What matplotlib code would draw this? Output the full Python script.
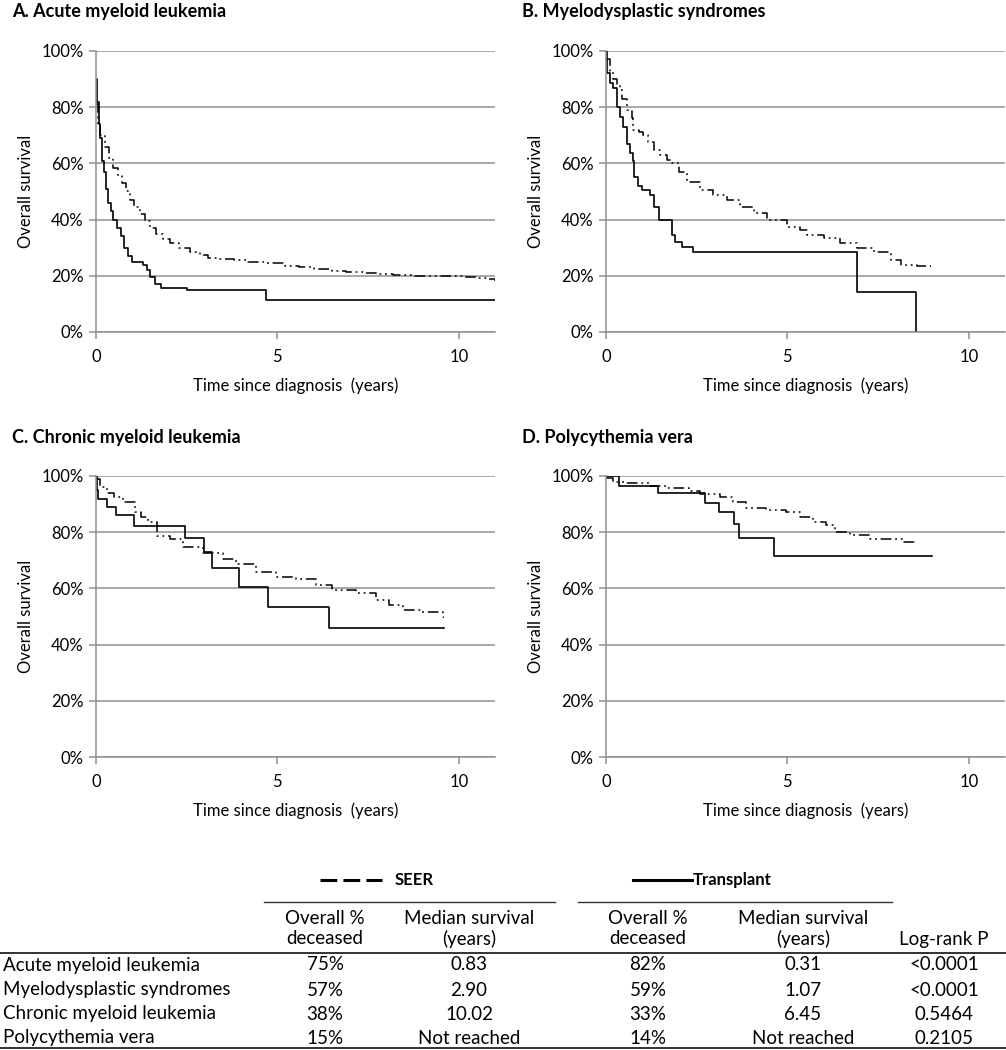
import matplotlib
matplotlib.use("Agg")
import matplotlib.pyplot as plt
from matplotlib.lines import Line2D
from matplotlib.ticker import PercentFormatter

plt.rcParams['font.family'] = ['Lato', 'DejaVu Sans']

# Kaplan-Meier curves (time in years, survival fraction)
aml_tx_time = [0, 0.03, 0.08, 0.12, 0.16, 0.22, 0.28, 0.34, 0.42, 0.48, 0.58, 0.68, 0.78, 0.88,
               1.0, 1.3, 1.4, 1.5, 1.62, 1.78, 2.5, 4.7, 11.0]
aml_tx_surv = [0.90, 0.82, 0.74, 0.69, 0.61, 0.57, 0.51, 0.46, 0.43, 0.40, 0.37, 0.34, 0.30, 0.27,
               0.25, 0.24, 0.22, 0.195, 0.17, 0.158, 0.150, 0.113, 0.113]
aml_seer_time = [0, 0.05, 0.12, 0.25, 0.35, 0.48, 0.6, 0.71, 0.82, 0.94, 1.05, 1.2, 1.35, 1.49,
                 1.65, 1.85, 2.05, 2.3, 2.6, 2.86, 3.1, 3.4, 3.8, 4.2, 4.7, 5.2, 5.6, 6.0, 6.5,
                 6.9, 7.4, 7.8, 8.2, 8.7, 9.2, 9.6, 10.1, 10.5, 10.8, 11.0]
aml_seer_surv = [0.81, 0.74, 0.70, 0.66, 0.62, 0.585, 0.555, 0.53, 0.50, 0.47, 0.445, 0.42, 0.395,
                 0.37, 0.35, 0.33, 0.315, 0.30, 0.285, 0.274, 0.265, 0.259, 0.255, 0.25, 0.244,
                 0.236, 0.23, 0.225, 0.218, 0.213, 0.21, 0.206, 0.203, 0.201, 0.199, 0.198,
                 0.196, 0.193, 0.188, 0.18]

mds_tx_time = [0, 0.02, 0.04, 0.11, 0.2, 0.3, 0.39, 0.48, 0.57, 0.66, 0.75, 0.78, 0.89, 0.99,
               1.22, 1.31, 1.45, 1.81, 1.9, 2.09, 2.41, 6.93, 8.56, 8.57]
mds_tx_surv = [1.0, 0.97, 0.92, 0.886, 0.868, 0.80, 0.765, 0.73, 0.67, 0.637, 0.61, 0.55, 0.52,
               0.505, 0.487, 0.445, 0.40, 0.345, 0.32, 0.302, 0.285, 0.143, 0.0, 0.0]
mds_seer_time = [0, 0.11, 0.2, 0.3, 0.39, 0.44, 0.57, 0.71, 0.75, 0.9, 1.03, 1.17, 1.31, 1.5,
                 1.68, 1.81, 2.0, 2.23, 2.6, 2.96, 3.33, 3.7, 4.07, 4.44, 4.99, 5.36, 5.54, 6.0,
                 6.46, 6.93, 7.38, 7.85, 8.12, 8.58, 8.95]
mds_seer_surv = [0.97, 0.924, 0.90, 0.88, 0.86, 0.83, 0.79, 0.76, 0.72, 0.71, 0.70, 0.676, 0.648,
                 0.63, 0.612, 0.60, 0.57, 0.534, 0.505, 0.488, 0.47, 0.445, 0.423, 0.40, 0.374,
                 0.363, 0.345, 0.333, 0.315, 0.298, 0.286, 0.256, 0.238, 0.236, 0.236]

cml_tx_time = [0, 0.02, 0.05, 0.29, 0.55, 1.06, 2.45, 2.98, 3.21, 3.94, 4.75, 6.43, 9.59]
cml_tx_surv = [1.0, 0.95, 0.917, 0.889, 0.861, 0.823, 0.78, 0.728, 0.671, 0.604, 0.535, 0.46, 0.46]
cml_seer_time = [0, 0.1, 0.29, 0.5, 0.75, 1.07, 1.25, 1.44, 1.67, 2.04, 2.4, 2.95, 3.5, 3.86,
                 4.41, 4.96, 5.51, 6.06, 6.52, 7.16, 7.71, 8.08, 8.45, 9.0, 9.56, 9.6]
cml_seer_surv = [0.99, 0.962, 0.938, 0.925, 0.909, 0.873, 0.855, 0.837, 0.786, 0.776, 0.746,
                 0.727, 0.705, 0.687, 0.659, 0.642, 0.633, 0.612, 0.594, 0.582, 0.559, 0.541,
                 0.523, 0.515, 0.50, 0.50]

pv_tx_time = [0, 0.36, 1.42, 2.74, 3.11, 3.52, 3.68, 4.62, 9.0]
pv_tx_surv = [1.0, 0.966, 0.941, 0.903, 0.871, 0.828, 0.78, 0.715, 0.715]
pv_seer_time = [0, 0.18, 0.55, 1.2, 1.66, 2.3, 2.59, 3.13, 3.5, 3.87, 4.42, 4.97, 5.34, 5.71,
                6.07, 6.3, 6.72, 7.27, 7.82, 8.19, 8.5]
pv_seer_surv = [0.992, 0.98, 0.974, 0.964, 0.956, 0.948, 0.935, 0.924, 0.909, 0.885, 0.879,
                0.871, 0.855, 0.837, 0.826, 0.802, 0.79, 0.776, 0.776, 0.764, 0.751]

panel_titles = ["A. Acute myeloid leukemia", "B. Myelodysplastic syndromes",
                "C. Chronic myeloid leukemia", "D. Polycythemia vera"]

# summary table
diseases = ["Acute myeloid leukemia", "Myelodysplastic syndromes",
            "Chronic myeloid leukemia", "Polycythemia vera"]
seer_deceased = ["75%", "57%", "38%", "15%"]
seer_median = ["0.83", "2.90", "10.02", "Not reached"]
tx_deceased = ["82%", "59%", "33%", "14%"]
tx_median = ["0.31", "1.07", "6.45", "Not reached"]
logrank_p = ["<0.0001", "<0.0001", "0.5464", "0.2105"]

W, H = 1006, 1050
fig = plt.figure(figsize=(W / 100, H / 100), dpi=100)

def fx(px):
    return px / W

def fy(py):
    return 1 - py / H

GRID = "#8f8f8f"
SEER_DASH = (0, (7, 2.5, 1.2, 2.5, 1.2, 2.5))

panels = [
    (96, 51, aml_tx_time, aml_tx_surv, aml_seer_time, aml_seer_surv),
    (606, 51, mds_tx_time, mds_tx_surv, mds_seer_time, mds_seer_surv),
    (96, 476, cml_tx_time, cml_tx_surv, cml_seer_time, cml_seer_surv),
    (606, 476, pv_tx_time, pv_tx_surv, pv_seer_time, pv_seer_surv),
]

for i, (left, top, tt, ts, st, ss) in enumerate(panels):
    ax = fig.add_axes([fx(left), fy(top + 281), 399 / W, 281 / H])
    ax.step(st, ss, where="post", color="black", lw=1.1, linestyle=SEER_DASH)
    ax.step(tt, ts, where="post", color="black", lw=1.2)
    ax.set_xlim(0, 11)
    ax.set_ylim(0, 1)
    ax.set_xticks([0, 5, 10])
    ax.set_yticks([0, 0.2, 0.4, 0.6, 0.8, 1.0])
    ax.yaxis.set_major_formatter(PercentFormatter(xmax=1, decimals=0))
    ax.grid(axis="y", color=GRID, lw=1.1)
    ax.set_axisbelow(True)
    for side in ["top", "right"]:
        ax.spines[side].set_visible(False)
    for side in ["left", "bottom"]:
        ax.spines[side].set_color(GRID)
        ax.spines[side].set_linewidth(1.1)
    ax.tick_params(axis="both", colors=GRID, length=5, width=1.1, labelsize=12,
                   labelcolor="black")
    ax.tick_params(axis="y", pad=4)
    ax.tick_params(axis="x", pad=7)
    ax.set_xlabel("Time since diagnosis  (years)", fontsize=12, labelpad=9)
    ax.set_ylabel("Overall survival", fontsize=12, labelpad=5)
    fig.text(fx(left - 84), fy(top - 39), panel_titles[i], fontsize=13,
             fontweight="bold", va="center", ha="left")

# legend above the table
fig.add_artist(Line2D([fx(320), fx(382)], [fy(880), fy(880)], color="black", lw=2.2,
                      linestyle=(0, (5.5, 2))))
fig.text(fx(395), fy(880), "SEER", fontsize=12, fontweight="bold", va="center")
fig.add_artist(Line2D([fx(633), fx(692)], [fy(880), fy(880)], color="black", lw=2.2))
fig.text(fx(693), fy(880), "Transplant", fontsize=12, fontweight="bold", va="center")

fig.add_artist(Line2D([fx(264), fx(555)], [fy(902), fy(902)], color="#333333", lw=1.0))
fig.add_artist(Line2D([fx(578), fx(892)], [fy(902), fy(902)], color="#333333", lw=1.0))

col_x = [325, 469, 648, 803, 944]
fs = 13.5
for x, h1, h2 in zip(col_x, ["Overall %", "Median survival", "Overall %", "Median survival", ""],
                     ["deceased", "(years)", "deceased", "(years)", "Log-rank P"]):
    if h1:
        fig.text(fx(x), fy(918), h1, fontsize=fs, ha="center", va="center")
    fig.text(fx(x), fy(939), h2, fontsize=fs, ha="center", va="center")

fig.add_artist(Line2D([0, 1], [fy(953), fy(953)], color="#333333", lw=1.4))
fig.add_artist(Line2D([0, 1], [fy(1048), fy(1048)], color="#333333", lw=1.4))

row_y = [965, 990, 1014, 1038]
for r, y in enumerate(row_y):
    fig.text(fx(3), fy(y), diseases[r], fontsize=fs, ha="left", va="center")
    for x, col in zip(col_x, [seer_deceased, seer_median, tx_deceased, tx_median, logrank_p]):
        fig.text(fx(x), fy(y), col[r], fontsize=fs, ha="center", va="center")

fig.savefig("out.png", dpi=100)
